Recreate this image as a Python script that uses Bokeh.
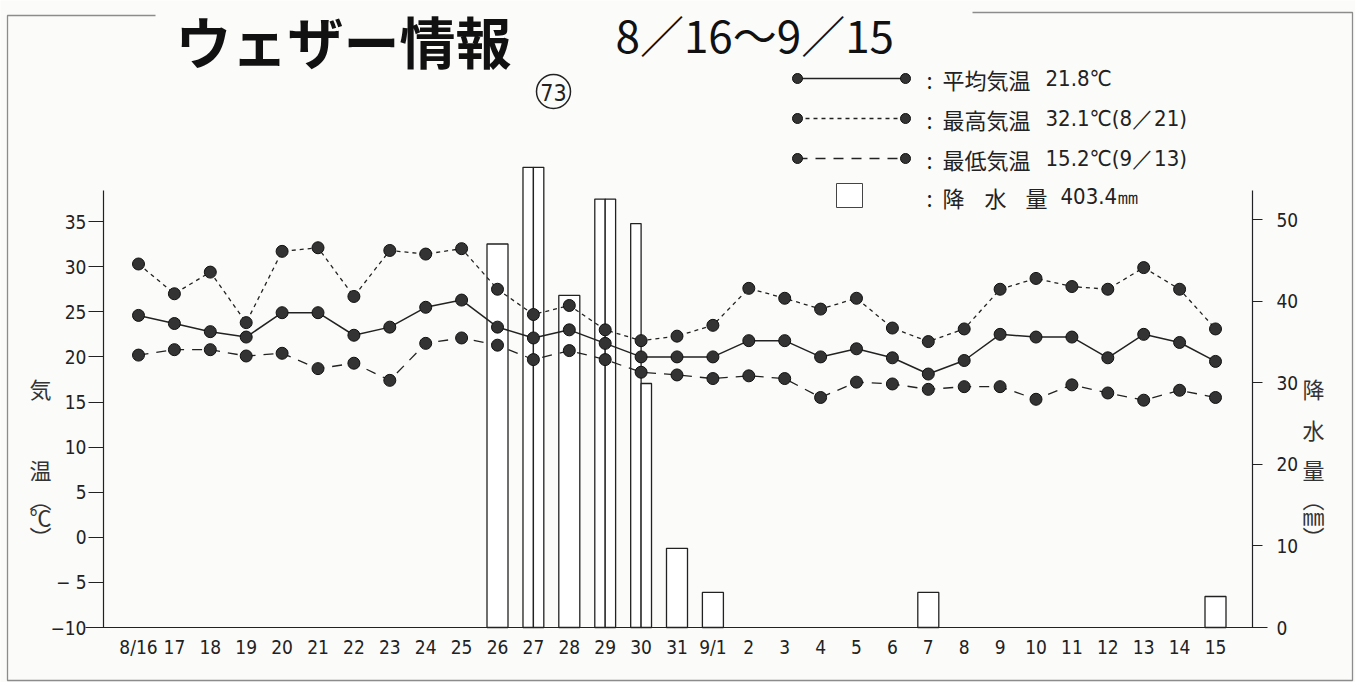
from bokeh.plotting import figure
from bokeh.models import Range1d, LinearAxis, FixedTicker
from bokeh.core.properties import value
from bokeh.embed import file_html
from bokeh.resources import INLINE

# ---------------- data ----------------
day_labels = ["8/16", "17", "18", "19", "20", "21", "22", "23", "24", "25", "26", "27",
              "28", "29", "30", "31", "9/1", "2", "3", "4", "5", "6", "7", "8", "9",
              "10", "11", "12", "13", "14", "15"]
t_mean = [24.6, 23.7, 22.8, 22.2, 24.9, 24.9, 22.4, 23.3, 25.5, 26.3, 23.3, 22.1, 23.0,
          21.5, 20.0, 20.0, 20.0, 21.8, 21.8, 20.0, 20.9, 19.9, 18.1, 19.6, 22.5, 22.2,
          22.2, 19.9, 22.5, 21.6, 19.5]
t_max = [30.3, 27.0, 29.4, 23.8, 31.7, 32.1, 26.7, 31.8, 31.4, 32.0, 27.5, 24.7, 25.7,
         23.0, 21.8, 22.3, 23.5, 27.6, 26.5, 25.3, 26.5, 23.2, 21.7, 23.1, 27.5, 28.7,
         27.8, 27.5, 29.9, 27.5, 23.1]
t_min = [20.2, 20.8, 20.8, 20.1, 20.4, 18.7, 19.3, 17.4, 21.5, 22.1, 21.3, 19.7, 20.7,
         19.7, 18.3, 18.0, 17.6, 17.9, 17.6, 15.5, 17.2, 17.0, 16.4, 16.7, 16.7, 15.3,
         16.9, 16.0, 15.2, 16.3, 15.5]
# rainfall (mm); on days with two columns, rain_a is the left column, rain_b the right
rain_a = [0, 0, 0, 0, 0, 0, 0, 0, 0, 0, 47.0, 56.4, 40.7, 52.5, 49.5, 9.7, 4.3, 0, 0, 0,
          0, 0, 4.3, 0, 0, 0, 0, 0, 0, 0, 3.8]
rain_b = [0, 0, 0, 0, 0, 0, 0, 0, 0, 0, 0, 56.4, 0, 52.5, 29.9, 0, 0, 0, 0, 0,
          0, 0, 0, 0, 0, 0, 0, 0, 0, 0, 0]
temp_ticks = [-10, -5, 0, 5, 10, 15, 20, 25, 30, 35]
rain_ticks = [0, 10, 20, 30, 40, 50]
legend_names = ["平均気温", "最高気温", "最低気温"]
legend_values = ["21.8℃", "32.1℃(8／21)", "15.2℃(9／13)"]
rain_name = ["降", "水", "量"]
rain_total = "403.4㎜"
temp_title = ["気", "温", "︵", "℃", "︶"]
rain_title = ["降", "水", "量", "︵", "㎜", "︶"]
title_main = "ウェザー情報"
title_period = "8／16〜9／15"
issue_no = "73"

# ---------------- geometry helpers (page pixels -> data) ----------------
X0, DX = 138.0, 35.9              # pixel x of first day, pixels per day
YB, TPX, RPX = 627, 9.02, 8.16    # pixel y of baseline, px per degC, px per mm


def px(x):
    return (x - X0) / DX


def py(y):
    return -10 + (YB - y) / TPX


W, H = 1355, 682
days = list(range(len(day_labels)))

p = figure(width=W, height=H, output_backend="svg", toolbar_location=None,
           x_range=Range1d(px(0), px(W)), y_range=Range1d(py(H), py(0)),
           min_border=0)
p.extra_y_ranges = {"rain": Range1d(-(H - YB) / RPX, YB / RPX)}
p.title.visible = False
p.xgrid.visible = False
p.ygrid.visible = False
p.outline_line_color = None
BG = "#fbfbfa"
p.background_fill_color = BG
p.border_fill_color = BG

NUMFONT = "Liberation Sans Narrow, DejaVu Sans Condensed, Liberation Sans"
JPFONT = "Noto Sans CJK JP"
INK = "#222222"


def style_axis(ax, size="19px"):
    ax.minor_tick_line_color = None
    ax.axis_line_color = INK
    ax.axis_line_width = 1.2
    ax.major_tick_line_color = INK
    ax.major_label_text_font = NUMFONT
    ax.major_label_text_font_size = size
    ax.major_label_text_color = INK


# x axis
xa = p.xaxis[0]
style_axis(xa)
xa.fixed_location = -10
xa.bounds = (px(85), px(1267))
xa.ticker = FixedTicker(ticks=days)
xa.major_label_overrides = {i: s for i, s in enumerate(day_labels)}
xa.major_tick_line_color = None
xa.major_label_standoff = 2

# left axis
ya = p.yaxis[0]
style_axis(ya)
ya.fixed_location = px(103)
ya.ticker = FixedTicker(ticks=temp_ticks)
ya.major_label_overrides = {-10: "−10", -5: "− 5"}
ya.bounds = (-10, py(190))
ya.major_tick_out = 15
ya.major_tick_in = 0
ya.major_label_standoff = 2

# right axis (rain)
ra = LinearAxis(y_range_name="rain", ticker=FixedTicker(ticks=rain_ticks),
                bounds=(0, (YB - 190) / RPX), fixed_location=px(1252))
style_axis(ra)
ra.major_tick_out = 10
ra.major_tick_in = 0
ra.major_label_standoff = 14
p.add_layout(ra, "right")

# ---------------- page frame ----------------
FR = "#8c8c8c"
p.line([px(155), px(7), px(7), px(1352), px(1352), px(972)],
       [py(15), py(15), py(680), py(680), py(12), py(12)],
       line_color=FR, line_width=1.3)

# ---------------- rain bars ----------------
full_w, half_w = 0.585, 0.29
bx, bt, bw = [], [], []
for d, a, b in zip(days, rain_a, rain_b):
    if b > 0:
        bx += [d - half_w / 2, d + half_w / 2]
        bt += [a, b]
        bw += [half_w, half_w]
    elif a > 0:
        bx.append(d)
        bt.append(a)
        bw.append(full_w)
p.vbar(x=bx, top=bt, width=bw, bottom=0, y_range_name="rain",
       fill_color="white", line_color=INK, line_width=1.3)

# ---------------- temperature lines ----------------
p.line(days, t_max, line_color=INK, line_width=1.3, line_dash="4 4")
p.line(days, t_min, line_color=INK, line_width=1.3, line_dash="10 8")
p.line(days, t_mean, line_color=INK, line_width=1.5)
for series in (t_max, t_mean, t_min):
    p.scatter(days, series, size=12, fill_color="#333333", line_color="#111111",
              line_width=1)

# ---------------- legend (drawn by hand) ----------------
rows_y = [78, 118, 158]
dashes = ["solid", "4 4", "10 8"]
for ry, dash in zip(rows_y, dashes):
    p.line([px(797), px(905)], [py(ry), py(ry)], line_color=INK, line_width=1.5,
           line_dash=dash)
    p.scatter([px(797), px(905)], [py(ry), py(ry)], size=10, fill_color="#333333",
              line_color="#111111")
p.quad(left=[px(836)], right=[px(862)], top=[py(183)], bottom=[py(207)],
       fill_color="white", line_color="#444444", line_width=1)
row_all = [78, 118, 158, 196]
p.text(x=[px(926)] * 4, y=[py(v) for v in row_all], text=[":"] * 4,
       text_font=value(JPFONT), text_font_size="22px", text_color=INK,
       text_align="left", text_baseline="middle")
p.text(x=[px(942)] * 3, y=[py(v) for v in rows_y], text=legend_names,
       text_font=value(JPFONT), text_font_size="22px", text_color=INK,
       text_align="left", text_baseline="middle")
p.text(x=[px(1045)] * 3, y=[py(v) for v in rows_y], text=legend_values,
       text_font=value(NUMFONT), text_font_size="22px", text_color=INK,
       text_align="left", text_baseline="middle")
p.text(x=[px(953), px(995), px(1036)], y=[py(196)] * 3, text=rain_name,
       text_font=value(JPFONT), text_font_size="22px", text_color=INK,
       text_align="center", text_baseline="middle")
p.text(x=[px(1060)], y=[py(196)], text=[rain_total],
       text_font=value(NUMFONT), text_font_size="22px", text_color=INK,
       text_align="left", text_baseline="middle")

# ---------------- title ----------------
p.text(x=[px(175)], y=[py(39)], text=[title_main], text_font=value(JPFONT),
       text_font_size="56px", text_font_style="bold", text_color="#111111",
       text_align="left", text_baseline="middle")
p.text(x=[px(615)], y=[py(33)], text=[title_period], text_font=value(JPFONT),
       text_font_size="44px", text_color="#111111",
       text_align="left", text_baseline="middle")
p.scatter([px(553)], [py(91)], size=34, fill_color=None, line_color=INK, line_width=1.5)
p.text(x=[px(553)], y=[py(92)], text=[issue_no], text_font=value(NUMFONT),
       text_font_size="23px", text_color=INK, text_align="center",
       text_baseline="middle")

# ---------------- vertical axis titles ----------------
p.text(x=[px(40)] * 5, y=[py(v) for v in (387, 468, 497, 515, 535)], text=temp_title,
       text_font=value(JPFONT), text_font_size="22px", text_color="#333333",
       text_align="center", text_baseline="middle")
p.text(x=[px(1313)] * 6, y=[py(v) for v in (387, 428, 468, 497, 514, 535)],
       text=rain_title, text_font=value(JPFONT), text_font_size="22px",
       text_color="#333333", text_align="center", text_baseline="middle")

open("out.html", "w").write(file_html(p, INLINE))
